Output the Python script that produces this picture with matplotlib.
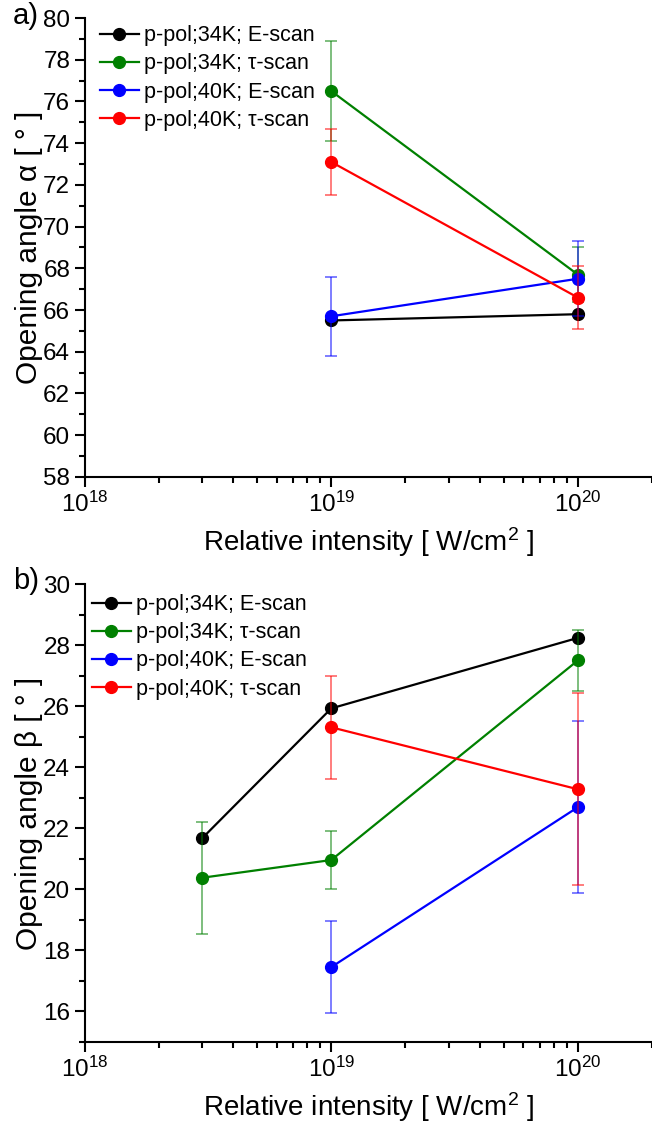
import numpy as np
import matplotlib
matplotlib.use('Agg')
import matplotlib.pyplot as plt

plt.rcParams['font.family'] = ['Liberation Sans', 'DejaVu Sans']
plt.rcParams['mathtext.fontset'] = 'custom'
plt.rcParams['mathtext.rm'] = 'Liberation Sans'
plt.rcParams['mathtext.it'] = 'Liberation Sans:italic'

# Panel a) opening angle alpha
a_x = [1e19, 1e20]
a_34E = [65.5, 65.8]
a_34T = [76.5, 67.7]
a_34T_err = [2.4, 1.3]
a_40E = [65.7, 67.5]
a_40E_err = [1.9, 1.8]
a_40T = [73.1, 66.6]
a_40T_err = [1.6, 1.5]

# Panel b) opening angle beta
b_x3 = [3e18, 1e19, 1e20]
b_x2 = [1e19, 1e20]
b_34E = [21.68, 25.93, 28.24]
b_34T = [20.38, 20.96, 27.5]
b_34T_err = [1.84, 0.95, 1.0]
b_40E = [17.45, 22.69]
b_40E_err = [1.5, 2.82]
b_40T = [25.31, 23.28]
b_40T_err = [1.68, 3.15]

labels = ['p-pol;34K; E-scan', 'p-pol;34K; τ-scan',
          'p-pol;40K; E-scan', 'p-pol;40K; τ-scan']
colors = ['black', '#008000', '#0000ff', '#ff0000']

fig = plt.figure(figsize=(6.52, 11.3), dpi=100)
ax1 = fig.add_axes([0.130, 0.578, 0.870, 0.406])
ax2 = fig.add_axes([0.130, 0.078, 0.870, 0.405])


def draw(ax, series):
    for (x, y, err), lab, c in zip(series, labels, colors):
        if err is not None:
            ax.errorbar(x, y, yerr=err, fmt='none', ecolor=c, alpha=0.55,
                        elinewidth=1.3, capsize=4.5, capthick=1.3)
        ax.plot(x, y, '-o', color=c, lw=1.6, ms=8.5, label=lab)


draw(ax1, [(a_x, a_34E, None), (a_x, a_34T, a_34T_err),
           (a_x, a_40E, a_40E_err), (a_x, a_40T, a_40T_err)])
draw(ax2, [(b_x3, b_34E, None), (b_x3, b_34T, b_34T_err),
           (b_x2, b_40E, b_40E_err), (b_x2, b_40T, b_40T_err)])

for ax, anchor in ((ax1, (0.0, 1.017)), (ax2, (-0.014, 1.011))):
    ax.set_xscale('log')
    ax.set_xlim(1e18, 2e20)
    ax.spines['top'].set_visible(False)
    ax.spines['right'].set_visible(False)
    ax.spines['left'].set_linewidth(1.5)
    ax.spines['bottom'].set_linewidth(1.5)
    ax.tick_params(which='major', direction='out', length=7, width=1.5,
                   labelsize=17.5)
    ax.tick_params(which='minor', direction='out', length=4, width=1.5)
    ax.set_xlabel('Relative intensity [ W/cm$^2$ ]', fontsize=20, labelpad=6)
    ax.legend(loc='upper left', bbox_to_anchor=anchor, frameon=False,
              fontsize=15.5, handlelength=1.8, handletextpad=0.25,
              labelspacing=0.33, borderaxespad=0.3)

ax1.set_ylim(58, 80)
ax1.set_yticks(np.arange(58, 81, 2))
ax1.set_yticks(np.arange(59, 80, 2), minor=True)
ax1.set_ylabel('Opening angle α [ ° ]', fontsize=21.5, labelpad=0)

ax2.set_ylim(15, 30)
ax2.set_yticks(np.arange(16, 31, 2))
ax2.set_yticks(np.arange(15, 30, 2), minor=True)
ax2.set_ylabel('Opening angle β [ ° ]', fontsize=21.5, labelpad=0)

fig.text(0.02, 0.986, 'a)', fontsize=21, va='center')
fig.text(0.02, 0.486, 'b)', fontsize=21, va='center')

fig.savefig('out.png', dpi=100)
